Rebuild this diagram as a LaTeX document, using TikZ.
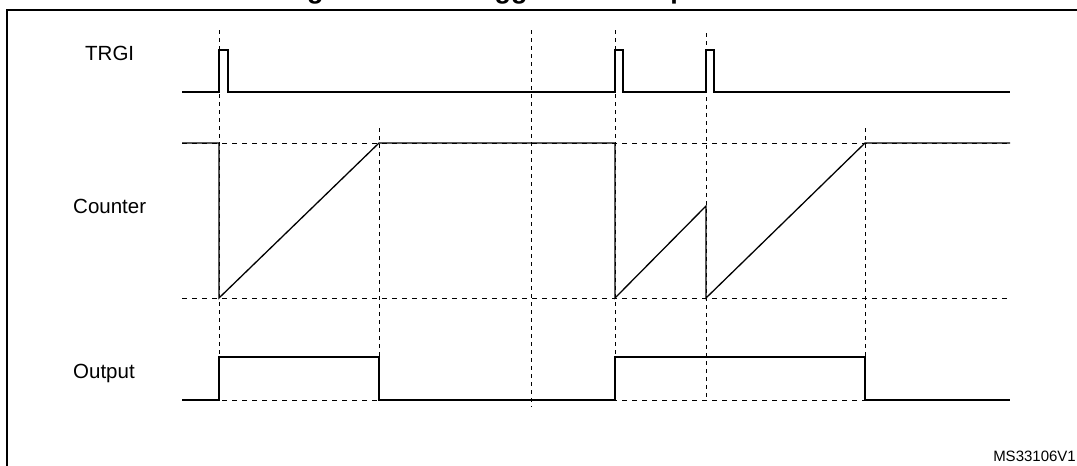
\documentclass[tikz,border=0pt]{standalone}
\usepackage{fontspec}
\setmainfont{Liberation Sans}

\begin{document}
\begin{tikzpicture}[x=1pt, y=-1pt,
  signal/.style={black, line width=1.3pt, line join=miter},
  hguide/.style={black, line width=1pt, dash pattern=on 5pt off 5pt},
  vguide/.style={black, line width=1pt, dash pattern=on 4pt off 4pt},
  lbl/.style={anchor=base west, inner sep=0pt, font=\fontsize{20.5}{24}\selectfont}]

  \useasboundingbox (0, 0) rectangle (1077, 466);
  \clip (0, 0) rectangle (1077, 466);

  % frame and (cut) title
  \draw[line width=2pt] (7, 466) -- (7, 10) -- (1077, 10);
  \node[anchor=base west, inner sep=0pt, font=\bfseries\fontsize{27}{30}\selectfont] (title) at (283, -1.5) {Figure \phantom{000.} Retriggerable one pulse mode};

  % signal names
  \node[lbl] (trgi) at (85, 60) {TRGI};
  \node[lbl] (counter) at (73, 213) {Counter};
  \node[lbl] (output) at (73, 378.5) {Output};
  \node[anchor=base east, inner sep=0pt, font=\fontsize{15}{18}\selectfont] (ref) at (1076, 461) {MS33106V1};

  % guides
  \draw[hguide] (182, 143) -- (1010, 143);
  \draw[hguide] (182, 298) -- (1010, 298);
  \draw[hguide] (182, 400) -- (1010, 400);
  \foreach \x/\top/\bot in {219/30/400, 379/128/400, 531/30/407, 615/30/400, 706/33/400, 865/128/400}
    \draw[vguide] (\x, \top) -- (\x, \bot);

  % TRGI
  \draw[signal] (182, 92) -- (219, 92) -- (219, 50) -- (228, 50) -- (228, 92)
    -- (615, 92) -- (615, 50) -- (623, 50) -- (623, 92)
    -- (706, 92) -- (706, 50) -- (714, 50) -- (714, 92) -- (1010, 92);

  % Counter
  \draw[signal] (182, 143) -- (219, 143) -- (219, 298) -- (379, 143) -- (615, 143)
    -- (615, 298) -- (706, 206) -- (706, 298) -- (865, 143) -- (1010, 143);

  % Output
  \draw[signal] (182, 400) -- (219, 400) -- (219, 357) -- (379, 357) -- (379, 400)
    -- (615, 400) -- (615, 357) -- (865, 357) -- (865, 400) -- (1010, 400);

\end{tikzpicture}
\end{document}
